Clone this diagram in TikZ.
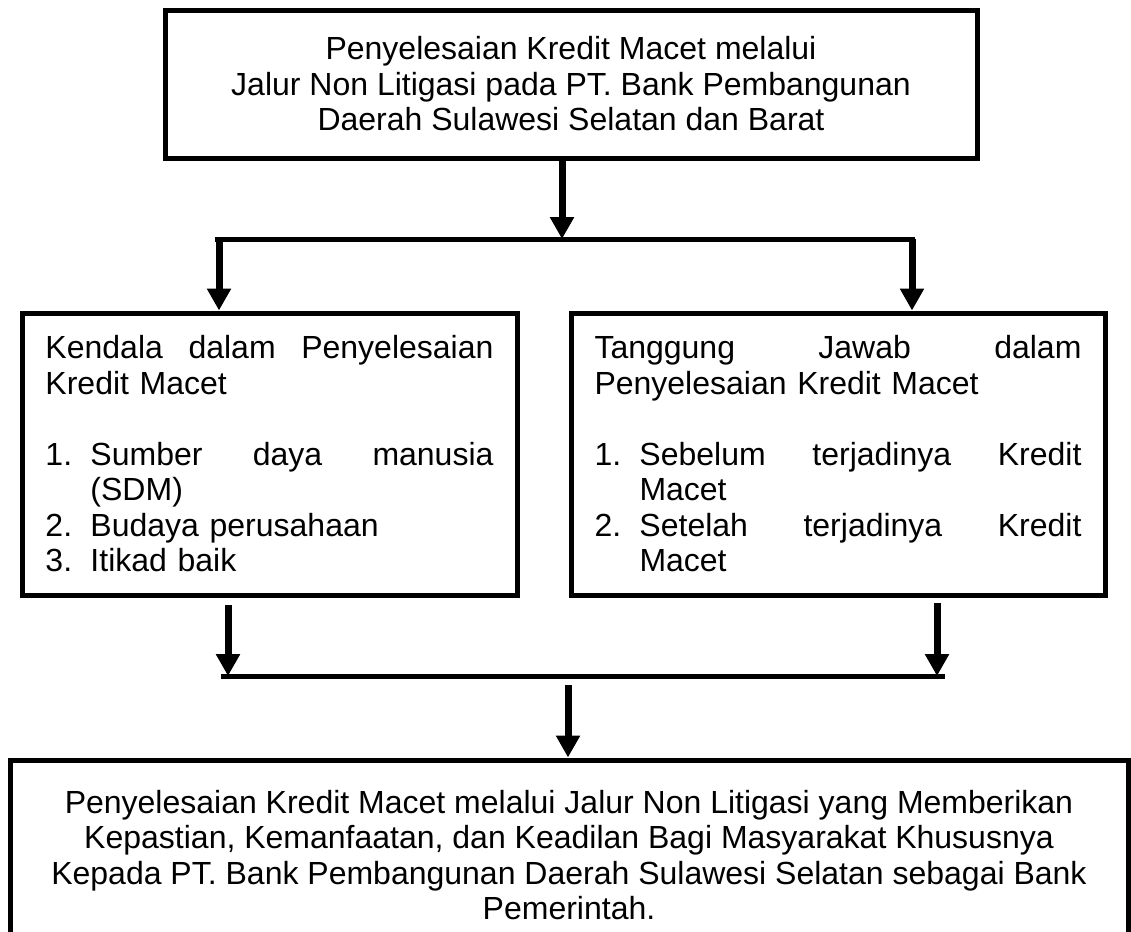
\documentclass[tikz,border=0pt]{standalone}
\usepackage{fontspec}
\setmainfont{Liberation Sans}
\usetikzlibrary{arrows.meta}

\newcommand{\nomor}[1]{\makebox[22.5pt][l]{#1}}

\begin{document}
\begin{tikzpicture}[x=0.5pt,y=-0.5pt,
    kotak/.style={draw, line width=2.5pt, inner sep=0pt, font=\fontsize{16}{17.75}\selectfont},
    garis/.style={line width=2.5pt},
    panah/.style={line width=3.5pt, -{Triangle[length=11pt,width=11.5pt]}}]

      \useasboundingbox (0,0) rectangle (1131,932);
      \clip (0,0) rectangle (1131,932);

      % top box
      \node (judul) [kotak, minimum width=406pt, minimum height=74pt, align=center] at (571,84)
          {Penyelesaian Kredit Macet melalui\\
           Jalur Non Litigasi pada PT. Bank Pembangunan\\
           Daerah Sulawesi Selatan dan Barat};

      % the two middle boxes
      \node (kendala) [kotak, minimum width=247.5pt, minimum height=141pt, text width=224pt, align=left] at (269.5,454)
          {\makebox[224pt][l]{Kendala\hfill dalam\hfill Penyelesaian}\\
           Kredit Macet\\
           \mbox{}\\
           \nomor{1.}\makebox[201.5pt][l]{Sumber\hfill daya\hfill manusia}\\
           \hspace*{22.5pt}(SDM)\\
           \nomor{2.}Budaya perusahaan\\
           \nomor{3.}Itikad baik};

      \node (tanggung) [kotak, minimum width=267pt, minimum height=141pt, text width=243.5pt, align=left] at (838,454)
          {\makebox[243.5pt][l]{Tanggung\hfill Jawab\hfill dalam}\\
           Penyelesaian Kredit Macet\\
           \mbox{}\\
           \nomor{1.}\makebox[221pt][l]{Sebelum\hfill terjadinya\hfill Kredit}\\
           \hspace*{22.5pt}Macet\\
           \nomor{2.}\makebox[221pt][l]{Setelah\hfill terjadinya\hfill Kredit}\\
           \hspace*{22.5pt}Macet};

      % bottom box
      \node (hasil) [kotak, minimum width=559pt, minimum height=95pt, align=center] at (569,855)
          {Penyelesaian Kredit Macet melalui Jalur Non Litigasi yang Memberikan\\
           Kepastian, Kemanfaatan, dan Keadilan Bagi Masyarakat Khususnya\\
           Kepada PT. Bank Pembangunan Daerah Sulawesi Selatan sebagai Bank\\
           Pemerintah.};

      % upper branching
      \coordinate (cabangL) at (215,239);
      \coordinate (cabangR) at (915,239);
      \draw [garis] (cabangL) -- (cabangR);

      \coordinate (p1) at (562,239);
      \coordinate (p2) at (219,239);
      \coordinate (p3) at (912,239);
      \draw [panah] (judul.south -| p1) -- (p1);
      \draw [panah] (p2) -- (p2 |- kendala.north);
      \draw [panah] (p3) -- (p3 |- tanggung.north);

      % lower joining
      \coordinate (gabungL) at (221,676);
      \coordinate (gabungR) at (945,676);
      \draw [garis] (gabungL) -- (gabungR);

      \coordinate (q1) at (228,605);
      \coordinate (q2) at (937,603);
      \coordinate (q3) at (568,685);
      \draw [panah] (q1) -- (q1 |- gabungL);
      \draw [panah] (q2) -- (q2 |- gabungR);
      \draw [panah] (q3) -- (q3 |- hasil.north);
\end{tikzpicture}
\end{document}
